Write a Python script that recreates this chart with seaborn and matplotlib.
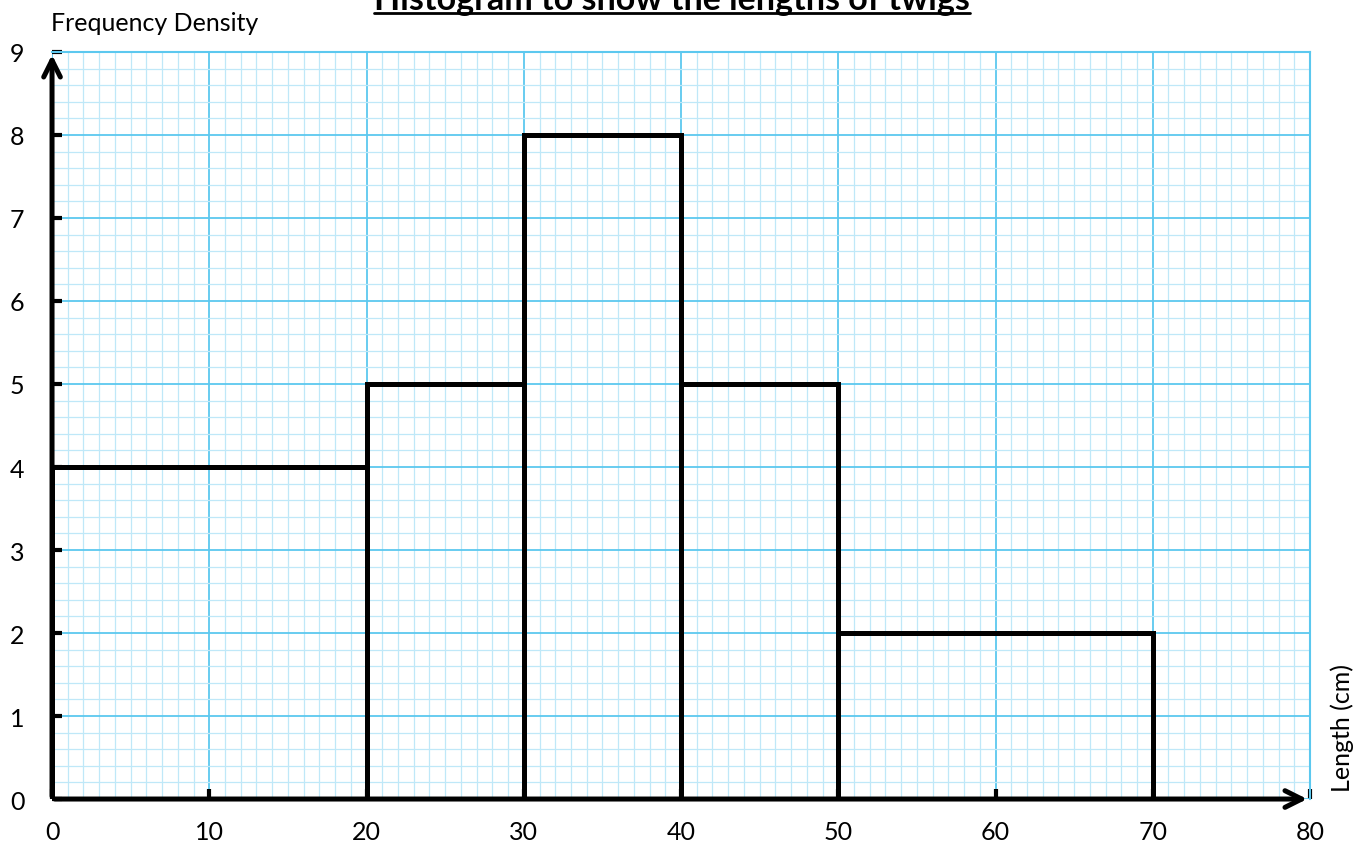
import numpy as np
import pandas as pd
import matplotlib
matplotlib.use("Agg")
import matplotlib.pyplot as plt
from matplotlib.ticker import MultipleLocator
import seaborn as sns

# Histogram data (unequal class widths)
bin_edges = [0, 20, 30, 40, 50, 70]
freq_density = [4, 5, 8, 5, 2]
x_ticks = [0, 10, 20, 30, 40, 50, 60, 70, 80]
y_ticks = [0, 1, 2, 3, 4, 5, 6, 7, 8, 9]

mids = [(a + b) / 2 for a, b in zip(bin_edges[:-1], bin_edges[1:])]
df = pd.DataFrame({"length": mids, "fd": freq_density})

sns.set_style("white")
plt.rcParams["font.family"] = ["Lato", "DejaVu Sans"]
plt.rcParams["text.color"] = "black"
plt.rcParams["xtick.labelcolor"] = "black"
plt.rcParams["ytick.labelcolor"] = "black"

fig = plt.figure(figsize=(13.55, 8.53), dpi=100)
ax = fig.add_axes([0.0384, 0.0621, 0.9284, 0.8758])

# graph paper grid
ax.xaxis.set_major_locator(MultipleLocator(10))
ax.xaxis.set_minor_locator(MultipleLocator(1))
ax.yaxis.set_major_locator(MultipleLocator(1))
ax.yaxis.set_minor_locator(MultipleLocator(0.2))
ax.grid(which="major", color="#5cc8ef", linewidth=1.3)
ax.grid(which="minor", color="#bfe8f8", linewidth=0.9)
ax.set_axisbelow(True)

sns.histplot(data=df, x="length", weights="fd", bins=bin_edges, fill=False,
             element="bars", color="black", linewidth=3.6, ax=ax, zorder=3)

ax.set_xlim(0, 80)
ax.set_ylim(0, 9)
ax.set_xticks(x_ticks)
ax.set_yticks(y_ticks)
ax.set_xlabel("")
ax.set_ylabel("")

for s in ["top", "right"]:
    ax.spines[s].set_color("#5cc8ef")
    ax.spines[s].set_linewidth(1.5)
for s in ["left", "bottom"]:
    ax.spines[s].set_visible(False)

ax.tick_params(axis="both", which="major", direction="in", length=7, width=3,
               color="black", labelsize=18, bottom=True, left=True)
ax.tick_params(axis="y", pad=20)
ax.tick_params(axis="x", pad=15)
ax.tick_params(axis="both", which="minor", length=0)

# axes with arrows
ax.annotate("", xy=(0, 9.0), xytext=(0, 0), xycoords="data",
            arrowprops=dict(arrowstyle="->", lw=3.6, color="black",
                            mutation_scale=30), annotation_clip=False, zorder=5)
ax.annotate("", xy=(80, 0), xytext=(0, 0), xycoords="data",
            arrowprops=dict(arrowstyle="->", lw=3.6, color="black",
                            mutation_scale=30), annotation_clip=False, zorder=5)

fig.text(0.038, 0.972, "Frequency Density", fontsize=18, ha="left", va="center")
fig.text(0.9905, 0.147, "Length (cm)", fontsize=18, rotation=90,
         ha="center", va="center")

title = fig.text(0.496, 0.988, "Histogram to show the lengths of twigs",
                 fontsize=24.5, fontweight="bold", ha="center", va="baseline")
fig.canvas.draw()
bb = title.get_window_extent().transformed(fig.transFigure.inverted())
fig.add_artist(plt.Line2D([bb.x0, bb.x1], [0.9835, 0.9835], color="black",
                          linewidth=2.0, transform=fig.transFigure))

fig.savefig("out.png", dpi=100)
